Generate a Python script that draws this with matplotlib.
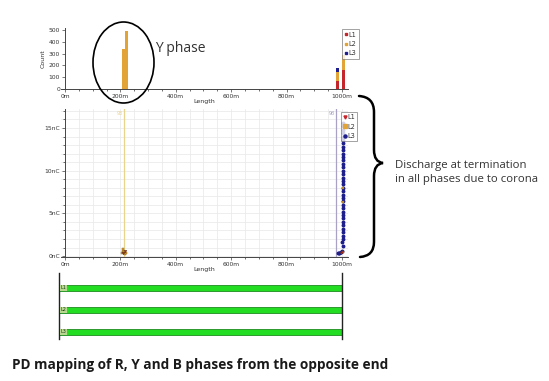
import matplotlib
matplotlib.use("Agg")
import matplotlib.pyplot as plt
from matplotlib.lines import Line2D
from matplotlib.patches import Ellipse, PathPatch
from matplotlib.path import Path
from matplotlib.ticker import MultipleLocator, FuncFormatter

plt.rcParams["font.family"] = ["Open Sans", "DejaVu Sans"]

W, H = 549, 381

# ── colours ──
C_L1 = "#c4262b"
C_L2 = "#e3a437"
C_L3 = "#1e1e8c"
TXT = "#333333"
TICK_FONT = "DejaVu Sans"

# ── histogram (top): count of discharges per length bin ──
hist_len = [212, 222, 984, 1005]
hist_l1 = [0, 0, 68, 160]
hist_l2 = [340, 490, 74, 130]
hist_l3 = [0, 0, 34, 0]
hist_width = 11

# ── PD map (middle): discharge charge [nC] vs location [m] ──
l1_len = [208, 215, 996, 1001]
l1_q = [0.4, 0.6, 0.3, 0.5]
l2_len = [207, 211, 214, 209, 216, 212, 219, 1003, 1003, 1002]
l2_q = [0.3, 0.6, 0.4, 0.8, 0.2, 0.5, 0.3, 8.0, 6.3, 0.5]
l3_len = [1003, 1002, 1004, 1003, 1002, 1003, 1004, 1002, 1003, 1003,
          1002, 1004, 1003, 1002, 1003, 1004, 1003, 1002, 1003, 1004,
          1003, 1002, 1003, 1002, 1004, 1003, 1002, 1003, 1004, 1003,
          1002, 1003, 1004, 1002, 1003, 1001, 1003,
          985, 990, 995, 988, 1000]
l3_q = [15.6, 15.2, 14.8, 14.4, 14.0, 13.6, 13.2, 12.8, 12.4, 12.0,
        11.6, 11.2, 10.8, 10.4, 10.0, 9.6, 9.2, 8.8, 8.4, 8.0,
        7.6, 7.2, 6.8, 6.4, 6.0, 5.6, 5.2, 4.8, 4.4, 4.0,
        3.6, 3.2, 2.8, 2.4, 2.0, 1.6, 1.2,
        0.4, 0.3, 0.5, 0.35, 0.6]
marker_pos = [212, 980]
marker_lbl = ["93", "98"]
marker_col = ["#e8d48c", "#a9a2c4"]

# ── cable bars (bottom) ──
phases = ["L1", "L2", "L3"]
cable_len = [1000, 1000, 1000]


def fbox(x0, y0, x1, y1):
    """pixel box (y down) -> figure-fraction [l, b, w, h]"""
    return [x0 / W, 1 - y1 / H, (x1 - x0) / W, (y1 - y0) / H]


def fpt(x, y):
    return (x / W, 1 - y / H)


def style_axes(ax):
    for s in ("top", "right"):
        ax.spines[s].set_visible(False)
    ax.spines["left"].set_position(("data", 0))
    for s in ("left", "bottom"):
        ax.spines[s].set_color("#444444")
        ax.spines[s].set_linewidth(0.7)
    ax.tick_params(labelsize=4.3, colors="#444444", labelcolor=TXT,
                   length=2, width=0.5, pad=1.5)
    ax.tick_params(which="minor", length=1.2, width=0.4)
    ax.set_facecolor("none")
    ax.xaxis.set_major_locator(MultipleLocator(200))
    ax.xaxis.set_minor_locator(MultipleLocator(50))
    ax.xaxis.set_major_formatter(FuncFormatter(lambda v, p: f"{v:.0f}m"))
    ax.set_xlim(-15, 1020)
    for lbl in ax.get_xticklabels() + ax.get_yticklabels():
        lbl.set_family(TICK_FONT)


def small_legend(ax, handles, anchor):
    lg = ax.legend(handles, phases, loc="upper left", bbox_to_anchor=anchor,
                   prop={"family": TICK_FONT, "size": 4.8}, frameon=True,
                   handlelength=0.4, handletextpad=0.2, borderpad=0.35,
                   labelspacing=0.5, borderaxespad=0, fancybox=False)
    lg.get_frame().set_edgecolor("#777777")
    lg.get_frame().set_linewidth(0.6)
    for t in lg.get_texts():
        t.set_color(TXT)
    return lg


fig = plt.figure(figsize=(W / 100, H / 100), dpi=100)
fig.patch.set_facecolor("white")

# ────────────── top histogram ──────────────
ax1 = fig.add_axes(fbox(60.8, 27.6, 347.5, 89.4))
ax1.bar(hist_len, hist_l1, width=hist_width, color=C_L1, linewidth=0)
ax1.bar(hist_len, hist_l2, width=hist_width, bottom=hist_l1, color=C_L2, linewidth=0)
bot = [a + b for a, b in zip(hist_l1, hist_l2)]
ax1.bar(hist_len, hist_l3, width=hist_width, bottom=bot, color=C_L3, linewidth=0)
ax1.set_ylim(-3, 520)
ax1.set_yticks([0, 100, 200, 300, 400, 500])
style_axes(ax1)
ax1.set_ylabel("Count", fontsize=4.5, color=TXT, labelpad=2, family=TICK_FONT)
ax1.set_xlabel("Length", fontsize=4.5, color=TXT, labelpad=0, family=TICK_FONT)
h1 = [Line2D([], [], ls="none", marker="s", ms=1.5, color=c) for c in (C_L1, C_L2, C_L3)]
small_legend(ax1, h1, (0.982, 0.97))

# ────────────── middle PD map ──────────────
ax2 = fig.add_axes(fbox(60.8, 109.2, 347.5, 256.9))
ax2.set_ylim(-0.1, 17.2)
ax2.yaxis.set_major_locator(MultipleLocator(5))
ax2.yaxis.set_minor_locator(MultipleLocator(1))
ax2.yaxis.set_major_formatter(FuncFormatter(lambda v, p: f"{v:.0f}nC"))
style_axes(ax2)
ax2.grid(True, which="both", color="#e8e8e8", linewidth=0.5)
ax2.set_axisbelow(True)
ax2.set_xlabel("Length", fontsize=4.5, color=TXT, labelpad=0, family=TICK_FONT)
for pos, lbl, col in zip(marker_pos, marker_lbl, marker_col):
    ax2.axvline(pos, color=col, linewidth=0.9, zorder=1)
    ax2.text(pos - 4, 16.7, lbl, fontsize=3.5, color=col, ha="right", va="center",
             family=TICK_FONT)
ax2.plot(l3_len, l3_q, ls="none", marker="o", ms=1.8, color=C_L3, zorder=3)
ax2.plot(l2_len, l2_q, ls="none", marker="s", ms=1.8, color=C_L2,
         markeredgecolor="#7a5a1a", markeredgewidth=0.3, zorder=4)
ax2.plot(l1_len, l1_q, ls="none", marker="v", ms=1.8, color=C_L1,
         markeredgecolor="#5a2a10", markeredgewidth=0.3, zorder=4)
h2 = [Line2D([], [], ls="none", marker=m, ms=2.2, color=c)
      for m, c in (("v", C_L1), ("s", C_L2), ("o", C_L3))]
small_legend(ax2, h2, (0.977, 0.98))

# ────────────── bottom cable bars ──────────────
ax3 = fig.add_axes(fbox(59, 273, 342, 339))
ax3.barh(range(len(phases)), cable_len, height=0.3, left=0,
         color="#22dd22", edgecolor="#1e8c1e", linewidth=0.6)
ax3.set_xlim(0, 1000)
ax3.set_ylim(2.32, -0.68)
for s in ("top", "bottom"):
    ax3.spines[s].set_visible(False)
for s in ("left", "right"):
    ax3.spines[s].set_color("#222222")
    ax3.spines[s].set_linewidth(1.0)
ax3.set_xticks([])
ax3.set_yticks([])
ax3.set_facecolor("none")
for i, p in enumerate(phases):
    ax3.text(6, i, p, fontsize=3.5, color="#1a3a1a", ha="left", va="center",
             family=TICK_FONT,
             bbox=dict(boxstyle="square,pad=0.15", fc="#b8d890", ec="none"))

# ────────────── annotations ──────────────
ell = Ellipse(fpt(123.5, 62.5), 61 / W, 81 / H, transform=fig.transFigure,
              fill=False, edgecolor="black", linewidth=1.2)
fig.patches.append(ell)
fig.text(155 / W, 1 - 49 / H, "Y phase", fontsize=10, color=TXT,
         ha="left", va="center")

brace_px = [(359, 96), (374, 97), (374, 112), (374, 150), (374, 162), (383, 163),
            (374, 164), (374, 176), (374, 242), (374, 256), (360, 257)]
codes = [Path.MOVETO, Path.CURVE3, Path.CURVE3, Path.LINETO, Path.CURVE3, Path.CURVE3,
         Path.CURVE3, Path.CURVE3, Path.LINETO, Path.CURVE3, Path.CURVE3]
brace = Path([fpt(x, y) for x, y in brace_px], codes)
fig.patches.append(PathPatch(brace, transform=fig.transFigure, fill=False,
                             edgecolor="black", linewidth=1.8, capstyle="round"))
fig.text(395 / W, 1 - 172.5 / H, "Discharge at termination\nin all phases due to corona",
         fontsize=8.2, color=TXT, ha="left", va="center", linespacing=1.35)

fig.text(12 / W, 1 - 365 / H,
         "PD mapping of R, Y and B phases from the opposite end",
         fontsize=9.8, fontweight="bold", color="#1a1a1a", ha="left", va="center")

fig.savefig("out.png", dpi=100, facecolor="white")
